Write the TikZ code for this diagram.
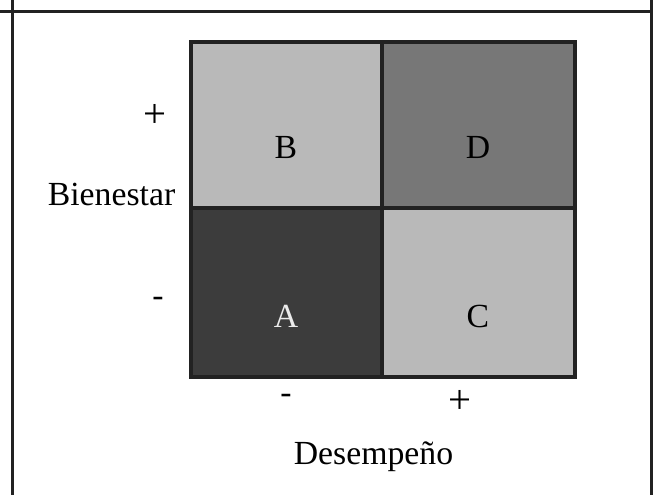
\documentclass[tikz,border=0pt]{standalone}
\usepackage{fontspec}
\setmainfont{Liberation Serif}
\usepackage{tikz}
\usetikzlibrary{positioning}

\definecolor{lightq}{HTML}{B9B9B9}
\definecolor{midq}{HTML}{777777}
\definecolor{darkq}{HTML}{3C3C3C}
\definecolor{edgeq}{HTML}{222222}

\tikzset{
  quad/.style={draw=edgeq, line width=2.2pt},
  lbl/.style={font=\fontsize{24}{28}\selectfont, inner sep=0pt},
  sign/.style={font=\fontsize{29}{32}\selectfont, inner sep=0pt},
}

\begin{document}
\begin{tikzpicture}[x=0.025cm, y=-0.025cm]
\useasboundingbox (0,0) rectangle (653,495);

% frame
\draw[edgeq, line width=1.5pt] (0,11.5) -- (653,11.5);
\draw[edgeq, line width=1.5pt] (12.5,0) -- (12.5,495);
\draw[edgeq, line width=1.5pt] (651.5,0) -- (651.5,495);

% quadrants
\draw[quad, fill=lightq] (191,42) rectangle (382,208);
\draw[quad, fill=midq] (382,42) rectangle (575,208);
\draw[quad, fill=darkq] (191,208) rectangle (382,377);
\draw[quad, fill=lightq] (382,208) rectangle (575,377);

\node[lbl] (qB) at (286,147) {B};
\node[lbl] (qD) at (478,147) {D};
\node[lbl, text=white!92!black] (qA) at (286,316) {A};
\node[lbl] (qC) at (478,316) {C};

% axis labels
\node[sign] (wplus) at (155,116) {+};
\node[lbl, anchor=base] (wname) at (111.5,205) {Bienestar};
\node[lbl] (wminus) at (158,302) {-};

\node[lbl] (pminus) at (286,399) {-};
\node[sign] (pplus) at (460,402) {+};
\node[lbl, anchor=base] (pname) at (373.5,464.5) {Desempeño};
\end{tikzpicture}
\end{document}
